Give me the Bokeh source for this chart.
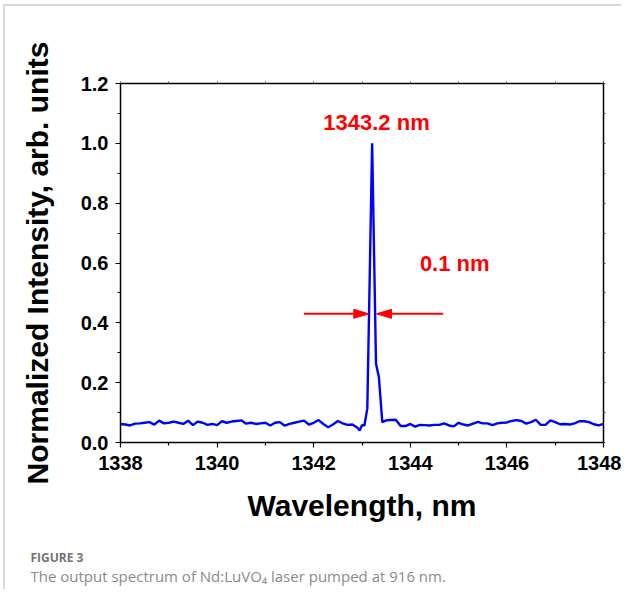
from bokeh.plotting import figure
from bokeh.models import LinearAxis, FixedTicker, Label, Range1d, NumeralTickFormatter, Title
from bokeh.embed import file_html
from bokeh.resources import INLINE

# ---------------- data ----------------
wavelength = [
    1338.0, 1338.1, 1338.2, 1338.3, 1338.4, 1338.5, 1338.6, 1338.7, 1338.8, 1338.9,
    1339.0, 1339.1, 1339.2, 1339.3, 1339.4, 1339.5, 1339.6, 1339.7, 1339.8, 1339.9,
    1340.0, 1340.1, 1340.2, 1340.3, 1340.4, 1340.5, 1340.6, 1340.7, 1340.8, 1340.9,
    1341.0, 1341.1, 1341.2, 1341.3, 1341.4, 1341.5, 1341.6, 1341.7, 1341.8, 1341.9,
    1342.0, 1342.1, 1342.2, 1342.3, 1342.4, 1342.5, 1342.6, 1342.7, 1342.8, 1342.9,
    1342.95, 1343.0, 1343.05, 1343.11, 1343.21, 1343.29, 1343.35, 1343.42,
    1343.5, 1343.6, 1343.7, 1343.8, 1343.9,
    1344.0, 1344.1, 1344.2, 1344.3, 1344.4, 1344.5, 1344.6, 1344.7, 1344.8, 1344.9,
    1345.0, 1345.1, 1345.2, 1345.3, 1345.4, 1345.5, 1345.6, 1345.7, 1345.8, 1345.9,
    1346.0, 1346.1, 1346.2, 1346.3, 1346.4, 1346.5, 1346.6, 1346.7, 1346.8, 1346.9,
    1347.0, 1347.1, 1347.2, 1347.3, 1347.4, 1347.5, 1347.6, 1347.7, 1347.8, 1347.9,
    1348.0,
]
intensity = [
    0.062, 0.060, 0.057, 0.063, 0.064, 0.066, 0.068, 0.060, 0.073, 0.064,
    0.066, 0.070, 0.066, 0.062, 0.073, 0.058, 0.070, 0.066, 0.059, 0.062,
    0.058, 0.071, 0.066, 0.070, 0.072, 0.074, 0.063, 0.066, 0.062, 0.064,
    0.066, 0.057, 0.066, 0.068, 0.056, 0.062, 0.066, 0.070, 0.073, 0.060,
    0.066, 0.075, 0.062, 0.051, 0.060, 0.072, 0.064, 0.059, 0.060, 0.050,
    0.040, 0.058, 0.057, 0.114, 1.000, 0.263, 0.218, 0.068,
    0.074, 0.075, 0.076, 0.055, 0.055,
    0.062, 0.053, 0.059, 0.058, 0.057, 0.059, 0.059, 0.064, 0.057, 0.054,
    0.066, 0.060, 0.057, 0.063, 0.069, 0.064, 0.064, 0.058, 0.064, 0.066,
    0.067, 0.072, 0.075, 0.072, 0.063, 0.068, 0.076, 0.059, 0.059, 0.074,
    0.068, 0.061, 0.062, 0.060, 0.064, 0.071, 0.071, 0.068, 0.061, 0.057,
    0.062,
]

x_major = [1338, 1340, 1342, 1344, 1346, 1348]
x_minor = [1339, 1341, 1343, 1345, 1347]
y_major = [0.0, 0.2, 0.4, 0.6, 0.8, 1.0, 1.2]
y_minor = [0.1, 0.3, 0.5, 0.7, 0.9, 1.1]
x_all = [1338, 1339, 1340, 1341, 1342, 1343, 1344, 1345, 1346, 1347, 1348]
y_all = [0.0, 0.1, 0.2, 0.3, 0.4, 0.5, 0.6, 0.7, 0.8, 0.9, 1.0, 1.1, 1.2]

peak_label = "1343.2 nm"
fwhm_label = "0.1 nm"
peak_label_pos = (1343.30, 1.068)
fwhm_label_pos = (1344.92, 0.598)
arrow_y = 0.430
left_arrow = (1341.795, 1343.141)   # tail, tip
right_arrow = (1344.68, 1343.30)    # tail, tip

x_label = "Wavelength, nm"
y_label = "Normalized Intensity, arb. units"
caption_head = "FIGURE 3"
caption_text = "The output spectrum of Nd:LuVO\u2084 laser pumped at 916 nm."

# ---------------- figure ----------------
W, H = 618, 585
p = figure(width=W, height=H, output_backend="svg", toolbar_location=None,
           x_range=Range1d(1338, 1348), y_range=Range1d(0, 1.2),
           x_axis_location=None, y_axis_location=None,
           min_border_left=115, min_border_top=77,
           min_border_right=20, min_border_bottom=149)
p.styles = {"margin-left": "3px", "margin-top": "4px",
            "border-top": "2px solid #d9d9d9", "border-left": "2px solid #d9d9d9"}
p.grid.visible = False
p.outline_line_color = None
p.background_fill_color = "white"
p.border_fill_color = "white"

FONT = "Liberation Sans"

bottom = LinearAxis(ticker=FixedTicker(ticks=x_major, minor_ticks=x_minor),
                    formatter=NumeralTickFormatter(format="0"))
left = LinearAxis(ticker=FixedTicker(ticks=y_major, minor_ticks=y_minor),
                  formatter=NumeralTickFormatter(format="0.0"))
for ax in (bottom, left):
    ax.axis_line_width = 1.5
    ax.axis_line_color = "black"
    ax.major_tick_line_width = 1.2
    ax.minor_tick_line_width = 1.2
    ax.major_tick_line_color = "black"
    ax.minor_tick_line_color = "black"
    ax.major_tick_out = 5
    ax.major_tick_in = 0
    ax.minor_tick_out = 3
    ax.minor_tick_in = 0
    ax.major_label_text_font = FONT
    ax.major_label_text_font_style = "bold"
    ax.major_label_text_font_size = "20px"
    ax.major_label_text_color = "black"
    ax.axis_label_text_font = FONT
    ax.axis_label_text_font_style = "bold"
    ax.axis_label_text_font_size = "30px"
    ax.axis_label_text_color = "black"
bottom.axis_label = x_label
left.axis_label = y_label
bottom.major_label_standoff = 8
left.major_label_standoff = 7
bottom.axis_label_standoff = 16
left.axis_label_standoff = 24

top = LinearAxis(ticker=FixedTicker(ticks=x_all))
right = LinearAxis(ticker=FixedTicker(ticks=y_all))
for ax in (top, right):
    ax.axis_line_width = 1.5
    ax.axis_line_color = "black"
    ax.major_tick_line_color = "#555555"
    ax.major_tick_line_width = 1
    ax.major_tick_out = 2
    ax.major_tick_in = 0
    ax.minor_tick_line_color = None
    ax.major_label_text_color = None
    ax.major_label_text_font_size = "8px"
    ax.major_label_standoff = 0

# invisible spacer between the x-axis title and the caption
spacer = LinearAxis(ticker=FixedTicker(ticks=[1343]))
spacer.axis_line_color = None
spacer.major_tick_line_color = None
spacer.minor_tick_line_color = None
spacer.major_tick_out = 22
spacer.major_tick_in = 0
spacer.major_label_text_color = None
spacer.major_label_text_font_size = "1px"
spacer.major_label_standoff = 0

p.add_layout(bottom, "below")
p.add_layout(left, "left")
p.add_layout(top, "above")
p.add_layout(right, "right")
p.add_layout(spacer, "below")

# caption under the chart
p.add_layout(Title(text=caption_head, align="left", offset=-90, standoff=0,
                   text_font="Open Sans", text_font_style="bold",
                   text_font_size="12px", text_color="#737373"), "below")
p.add_layout(Title(text=caption_text, align="left", offset=-90, standoff=-4,
                   text_font="Open Sans", text_font_style="normal",
                   text_font_size="15px", text_color="#8a8a8a"), "below")

# spectrum
p.line(wavelength, intensity, line_color="#0000ff", line_width=2.4)

# FWHM arrows (line + filled head built from the arrow endpoints)
nm_per_px = 10 / 483.0
val_per_px = 1.2 / 359.0
head_len = 15 * nm_per_px
head_half = 4.5 * val_per_px
for tail, tip in (left_arrow, right_arrow):
    d = 1 if tip > tail else -1
    base = tip - d * head_len
    p.line([tail, base], [arrow_y, arrow_y], line_color="#ff0000", line_width=2)
    p.patch([tip, base, base], [arrow_y, arrow_y + head_half, arrow_y - head_half],
            fill_color="#ff0000", line_color="#ff0000", line_width=1)

for txt, (lx, ly) in ((peak_label, peak_label_pos), (fwhm_label, fwhm_label_pos)):
    p.add_layout(Label(x=lx, y=ly, text=txt, text_align="center",
                       text_baseline="middle", text_font=FONT,
                       text_font_style="bold", text_font_size="22px",
                       text_color="#ff0000"))

open("out.html", "w").write(file_html(p, INLINE))
